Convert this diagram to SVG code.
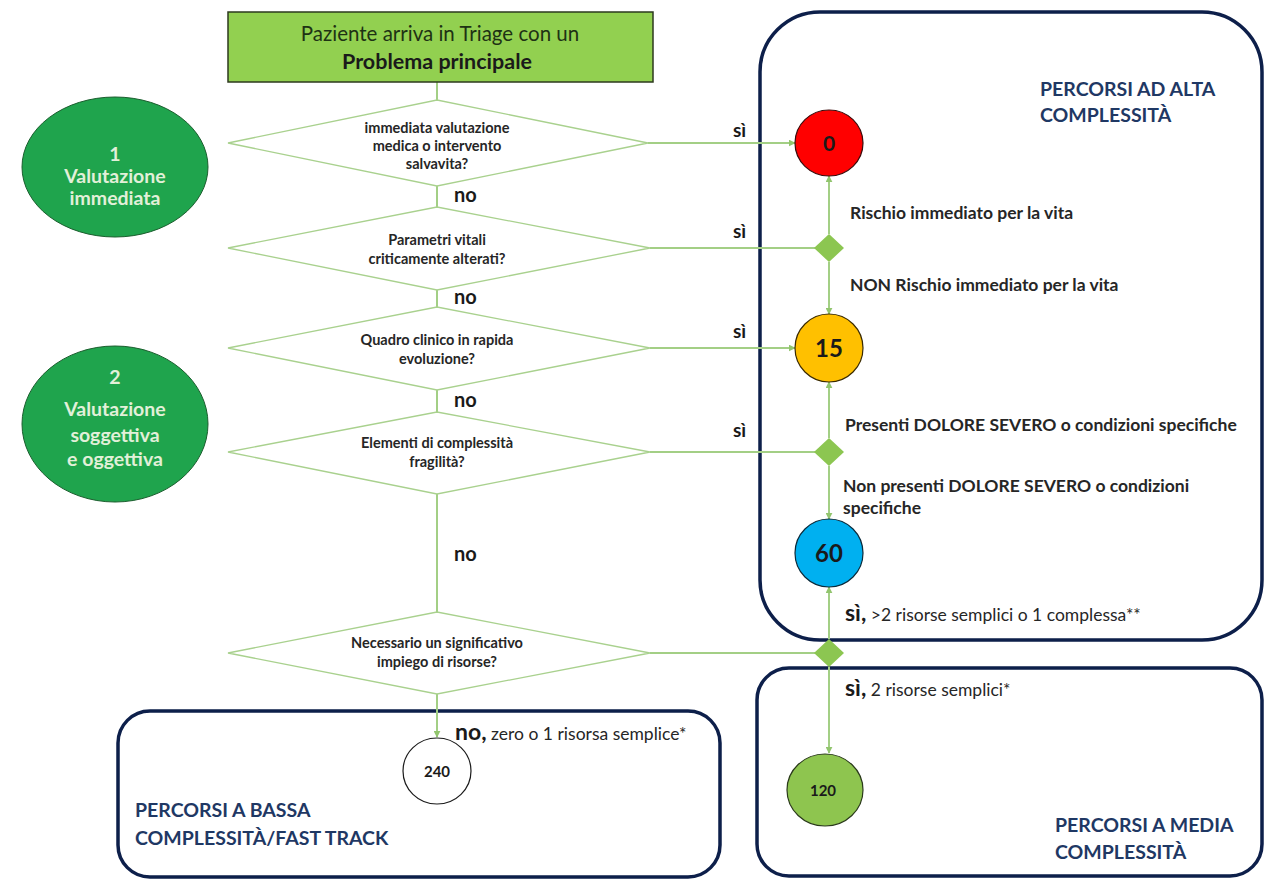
<svg xmlns="http://www.w3.org/2000/svg" width="1277" height="880" viewBox="0 0 1277 880">
<defs>
<marker id="arr" viewBox="0 0 10 10" refX="9" refY="5" markerWidth="7" markerHeight="7" orient="auto" markerUnits="userSpaceOnUse"><path d="M0,0 L10,5 L0,10 z" fill="#92c56e"/></marker>
<style>
text{font-family:Lato,"Open Sans","Liberation Sans",sans-serif;}
.dia{fill:#fff;stroke:#a9d18e;stroke-width:1.3;}
.con{fill:none;stroke:#a3cf85;stroke-width:2;}
.q{font-size:14.5px;font-weight:bold;fill:#262626;text-anchor:middle;}
.no{font-size:20px;font-weight:bold;fill:#1a1a1a;}
.si{font-size:19px;font-weight:bold;fill:#1a1a1a;}
.lab{font-size:17.5px;font-weight:bold;fill:#262626;}
.reg{font-size:17.5px;font-weight:normal;fill:#262626;}
.big2{font-size:23px;font-weight:bold;fill:#1a1a1a;}
.box{fill:none;stroke:#0d1f4a;stroke-width:3.5;}
.boxt{font-size:19.5px;font-weight:bold;fill:#1f3864;}
.big{fill:#1fa44d;stroke:#1b5e2e;stroke-width:1;}
.bigt{font-size:19.5px;font-weight:bold;fill:#e2f0d9;text-anchor:middle;}
.sd{fill:#8cc651;}
.num{font-weight:bold;text-anchor:middle;fill:#1a1a1a;}
</style>
</defs>
<rect width="1277" height="880" fill="#fff"/>

<g id="box-alta"><rect class="box" x="760" y="12" width="502" height="628" rx="60"/>
<text class="boxt" x="1040" y="96">PERCORSI AD ALTA</text><text class="boxt" x="1040" y="122">COMPLESSITÀ</text></g>
<g id="box-media"><rect class="box" x="757" y="668" width="505" height="208" rx="32"/>
<text class="boxt" x="1055" y="832">PERCORSI A MEDIA</text><text class="boxt" x="1055" y="859">COMPLESSITÀ</text></g>
<g id="box-bassa"><rect class="box" x="118" y="711" width="602" height="166" rx="32"/>
<text class="boxt" x="135" y="817">PERCORSI A BASSA</text><text class="boxt" x="135" y="845">COMPLESSITÀ/FAST TRACK</text></g>

<g id="connectors">
<path class="con" d="M437,82 V100"/>
<path class="con" d="M437,186 V207"/>
<path class="con" d="M437,290 V307"/>
<path class="con" d="M437,390 V412"/>
<path class="con" d="M437,494 V612"/>
<path class="con" d="M437,694 V737" marker-end="url(#arr)"/>
<path class="con" d="M648,143 H795" marker-end="url(#arr)"/>
<path class="con" d="M650,248 H815"/>
<path class="con" d="M829,234 V176" marker-end="url(#arr)"/>
<path class="con" d="M829,262 V314" marker-end="url(#arr)"/>
<path class="con" d="M650,348 H795" marker-end="url(#arr)"/>
<path class="con" d="M650,452 H815"/>
<path class="con" d="M829,438 V382" marker-end="url(#arr)"/>
<path class="con" d="M829,466 V519" marker-end="url(#arr)"/>
<path class="con" d="M650,653 H815"/>
<path class="con" d="M829,639 V587" marker-end="url(#arr)"/>
<path class="con" d="M829,667 V753" marker-end="url(#arr)"/>
<text class="si" x="733" y="137">sì</text>
<text class="si" x="733" y="238">sì</text>
<text class="si" x="733" y="338">sì</text>
<text class="si" x="733" y="437">sì</text>
<text class="no" x="454" y="202">no</text>
<text class="no" x="454" y="304">no</text>
<text class="no" x="454" y="407">no</text>
<text class="no" x="454" y="561">no</text>
<text class="lab" x="850" y="219">Rischio  immediato per la vita</text>
<text class="lab" x="850" y="291">NON Rischio  immediato per la vita</text>
<text class="lab" x="845" y="431">Presenti DOLORE SEVERO o condizioni  specifiche</text>
<text class="lab" x="843" y="492">Non presenti DOLORE SEVERO o condizioni</text>
<text class="lab" x="843" y="514">specifiche</text>
<text x="845" y="621"><tspan class="big2">sì,</tspan><tspan class="reg"> &gt;2 risorse semplici o 1 complessa**</tspan></text>
<text x="845" y="696"><tspan class="big2">sì,</tspan><tspan class="reg"> 2 risorse semplici*</tspan></text>
<text x="455" y="740"><tspan class="big2">no,</tspan><tspan class="reg"> zero o 1 risorsa semplice*</tspan></text>
</g>

<g id="start"><rect x="228" y="12" width="425" height="70" fill="#92d050" stroke="#2d3a1e" stroke-width="1.5"/>
<text x="440" y="41" text-anchor="middle" font-size="20.5" fill="#1e3214">Paziente arriva in Triage con un</text>
<text x="437" y="69" text-anchor="middle" font-size="21.5" font-weight="bold" fill="#1a1a1a">Problema principale</text></g>

<g id="q1"><polygon class="dia" points="228,143 437,100 648,143 437,186"/>
<text class="q" x="437" y="133">immediata valutazione</text><text class="q" x="437" y="151">medica o intervento</text><text class="q" x="437" y="169">salvavita?</text></g>
<g id="q2"><polygon class="dia" points="228,248 437,207 650,248 437,290"/>
<text class="q" x="437" y="245">Parametri vitali</text><text class="q" x="437" y="264">criticamente alterati?</text></g>
<g id="q3"><polygon class="dia" points="228,348 437,307 650,348 437,390"/>
<text class="q" x="437" y="345">Quadro clinico in rapida</text><text class="q" x="437" y="364">evoluzione?</text></g>
<g id="q4"><polygon class="dia" points="228,452 437,412 650,452 437,494"/>
<text class="q" x="437" y="448">Elementi di complessità</text><text class="q" x="437" y="467">fragilità?</text></g>
<g id="q5"><polygon class="dia" points="228,653 437,612 650,653 437,694"/>
<text class="q" x="437" y="648">Necessario un significativo</text><text class="q" x="437" y="667">impiego di risorse?</text></g>

<g id="phase1"><ellipse class="big" cx="115" cy="167" rx="93" ry="70"/>
<text class="bigt" x="115" y="161">1</text><text class="bigt" x="115" y="183">Valutazione</text><text class="bigt" x="115" y="205">immediata</text></g>
<g id="phase2"><ellipse class="big" cx="115" cy="424" rx="93" ry="78"/>
<text class="bigt" x="115" y="384">2</text><text class="bigt" x="115" y="416">Valutazione</text><text class="bigt" x="115" y="442">soggettiva</text><text class="bigt" x="115" y="466">e oggettiva</text></g>

<g id="sd1"><polygon class="sd" points="829,234 844,248 829,262 814,248"/></g>
<g id="sd2"><polygon class="sd" points="829,438 844,452 829,466 814,452"/></g>
<g id="sd3"><polygon class="sd" points="829,639 844,653 829,667 814,653"/></g>

<g id="c0"><ellipse cx="829" cy="143" rx="34" ry="33" fill="#ff0000" stroke="#3a0a0a" stroke-width="1.2"/><text class="num" x="829" y="151" font-size="21" fill="#5a0000">0</text></g>
<g id="c15"><ellipse cx="829" cy="348" rx="34" ry="34" fill="#ffc000" stroke="#3a2a00" stroke-width="1.2"/><text class="num" x="829" y="357" font-size="24">15</text></g>
<g id="c60"><ellipse cx="829" cy="553" rx="34" ry="34" fill="#00b0f0" stroke="#0a2a3a" stroke-width="1.2"/><text class="num" x="829" y="562" font-size="24" fill="#1a2a3a">60</text></g>
<g id="c120"><ellipse cx="825" cy="790" rx="38" ry="36" fill="#8ec54f" stroke="#2a3a1a" stroke-width="1.2"/><text class="num" x="823" y="796" font-size="15">120</text></g>
<g id="c240"><ellipse cx="437" cy="771" rx="34" ry="33" fill="#fff" stroke="#1a1a1a" stroke-width="1.2"/><text class="num" x="437" y="777" font-size="15">240</text></g>
</svg>
